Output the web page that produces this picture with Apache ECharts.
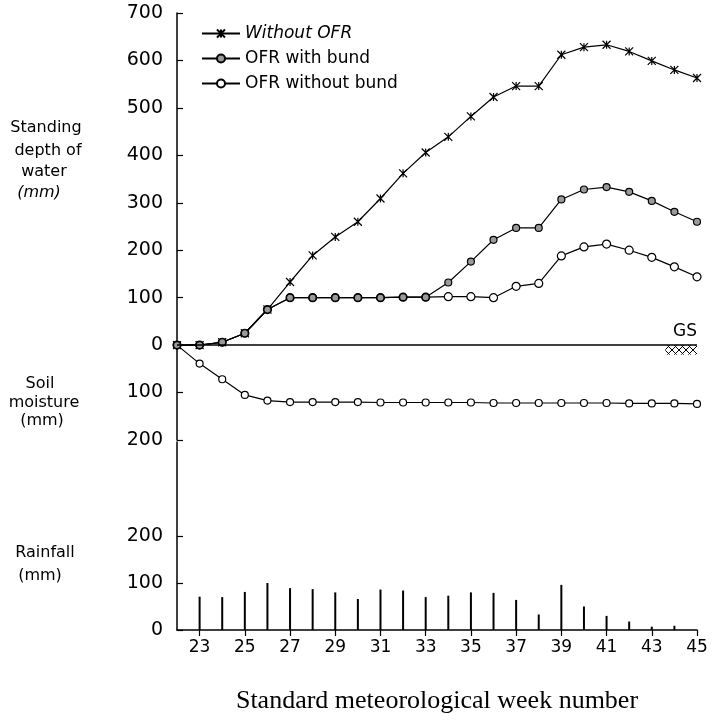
<!DOCTYPE html>
<html>
<head>
<meta charset="utf-8">
<script src="https://cdn.jsdelivr.net/npm/echarts@6/dist/echarts.min.js"></script>
<style>
  html, body { margin: 0; padding: 0; background: #fff; }
  #main { width: 714px; height: 722px; }
</style>
</head>
<body>
<div id="main"></div>
<script>
// standard meteorological weeks
var weeks = [22, 23, 24, 25, 26, 27, 28, 29, 30, 31, 32, 33, 34, 35, 36, 37, 38, 39, 40, 41, 42, 43, 44, 45]

// standing depth of water (mm)
var withoutOFR = [0, 0, 6, 25, 75, 133, 189, 228, 260, 309, 362, 406, 439, 482, 523, 546, 546, 612, 628, 633, 619, 599, 580, 563]
var ofrWithBund = [0, 0, 6, 25, 75, 100, 100, 100, 100, 100, 101, 101, 132, 176, 222, 247, 247, 307, 328, 333, 323, 304, 281, 260]
var ofrWithoutBund = [0, 0, 6, 25, 75, 100, 100, 100, 100, 100, 101, 101, 102, 102, 100, 124, 130, 188, 207, 213, 200, 185, 165, 144]

// soil moisture (mm, drawn below ground surface)
var soilMoisture = [0, -39, -72, -105, -117, -120, -120, -120, -120, -121, -121, -121, -121, -121, -122, -122, -122, -122, -122, -122, -123, -123, -123, -124]

// weekly rainfall (mm)
var rainWeeks = [23, 24, 25, 26, 27, 28, 29, 30, 31, 32, 33, 34, 35, 36, 37, 38, 39, 40, 41, 42, 43, 44]
var rainfall = [71, 70, 81, 100, 89, 87, 80, 66, 86, 84, 70, 73, 80, 79, 64, 33, 96, 50, 30, 18, 7, 9]

var oddWeeks = [23, 25, 27, 29, 31, 33, 35, 37, 39, 41, 43, 45]

function pairs(xs, ys) {
  return xs.map(function (x, i) { return [x, ys[i]] })
}

var labelFont = 'DejaVu Sans, Verdana, sans-serif'
var crossSymbol = 'path://M0,0L10,10M10,0L0,10M5,0L5,10'

/** small cross-hatch tile for the ground surface mark */
function hatchPattern() {
  var c = document.createElement('canvas')
  c.width = 7
  c.height = 7
  var ctx = c.getContext('2d')
  ctx.strokeStyle = '#000'
  ctx.lineWidth = 1
  ctx.beginPath()
  ctx.moveTo(0, 0)
  ctx.lineTo(7, 7)
  ctx.moveTo(7, 0)
  ctx.lineTo(0, 7)
  ctx.stroke()
  return c
}

function sideText(x, y, text, italic) {
  return {
    type: 'text',
    x: x,
    y: y,
    style: {
      text: text,
      align: 'center',
      verticalAlign: 'middle',
      font: (italic ? 'italic ' : '') + '16px ' + labelFont,
      fill: '#000'
    }
  }
}

var chart = echarts.init(document.getElementById('main'))

var option = {
  backgroundColor: '#fff',
  animation: false,
  textStyle: { fontFamily: labelFont, color: '#000' },
  legend: {
    orient: 'vertical',
    left: 196,
    top: 20,
    itemGap: 8,
    itemWidth: 38,
    itemHeight: 10,
    textStyle: { fontSize: 17, color: '#000', fontFamily: labelFont },
    data: [
      { name: 'Without OFR', textStyle: { fontStyle: 'italic' } },
      { name: 'OFR with bund' },
      { name: 'OFR without bund' }
    ]
  },
  grid: [
    { left: 177, right: 17, top: 13, bottom: 282 },
    { left: 177, right: 17, top: 442, bottom: 92 }
  ],
  xAxis: [
    {
      gridIndex: 0,
      type: 'value',
      min: 22,
      max: 45,
      show: false
    },
    {
      gridIndex: 1,
      type: 'value',
      min: 22,
      max: 45,
      name: 'Standard meteorological week number',
      nameLocation: 'middle',
      nameGap: 58,
      nameTextStyle: { fontFamily: 'Liberation Serif, Times New Roman, serif', fontSize: 26, color: '#000' },
      axisLine: { show: true, lineStyle: { color: '#000', width: 1.5 } },
      axisTick: { show: true, length: 6, customValues: oddWeeks, lineStyle: { color: '#000', width: 1.2 } },
      axisLabel: { customValues: oddWeeks, fontSize: 17, color: '#000', margin: 9, fontFamily: labelFont },
      splitLine: { show: false }
    }
  ],
  yAxis: [
    {
      gridIndex: 0,
      type: 'value',
      min: -200,
      max: 700,
      interval: 100,
      axisLine: { show: true, lineStyle: { color: '#000', width: 1.5 } },
      axisTick: { show: true, inside: true, length: 6, lineStyle: { color: '#000', width: 1.2 } },
      axisLabel: {
        fontSize: 19,
        color: '#000',
        margin: 14,
        fontFamily: labelFont,
        formatter: function (v) { return String(Math.abs(v)) }
      },
      splitLine: { show: false }
    },
    {
      gridIndex: 1,
      type: 'value',
      min: 0,
      max: 400,
      axisLine: { show: true, lineStyle: { color: '#000', width: 1.5 } },
      axisTick: { show: true, inside: true, length: 6, customValues: [0, 100, 200], lineStyle: { color: '#000', width: 1.2 } },
      axisLabel: { customValues: [0, 100, 200], fontSize: 19, color: '#000', margin: 14, fontFamily: labelFont },
      splitLine: { show: false }
    }
  ],
  graphic: [
    sideText(46, 128, 'Standing'),
    sideText(48, 151, 'depth of'),
    sideText(44, 172, 'water'),
    sideText(39, 193, '(mm)', true),
    sideText(40, 384, 'Soil'),
    sideText(44, 403, 'moisture'),
    sideText(42, 421, '(mm)'),
    sideText(45, 553, 'Rainfall'),
    sideText(40, 576, '(mm)')
  ],
  series: [
    {
      name: 'Without OFR',
      type: 'line',
      xAxisIndex: 0,
      yAxisIndex: 0,
      data: pairs(weeks, withoutOFR),
      symbol: crossSymbol,
      symbolSize: 8,
      showAllSymbol: true,
      lineStyle: { color: '#000', width: 1.2 },
      itemStyle: { color: 'none', borderColor: '#000', borderWidth: 1.2 },
      z: 2,
      markLine: {
        silent: true,
        symbol: 'none',
        lineStyle: { color: '#000', width: 1.6, type: 'solid' },
        label: {
          show: true,
          position: 'insideEndTop',
          formatter: 'GS',
          fontSize: 17,
          color: '#000',
          fontFamily: labelFont,
          distance: [0, 5]
        },
        data: [{ yAxis: 0 }]
      },
      markArea: {
        silent: true,
        itemStyle: {
          color: { image: hatchPattern(), repeat: 'repeat' }
        },
        data: [[{ xAxis: 43.6, yAxis: 0 }, { xAxis: 45, yAxis: -20 }]]
      }
    },
    {
      name: 'OFR without bund',
      type: 'line',
      xAxisIndex: 0,
      yAxisIndex: 0,
      data: pairs(weeks, ofrWithoutBund),
      symbol: 'circle',
      symbolSize: 8,
      showAllSymbol: true,
      lineStyle: { color: '#000', width: 1.2 },
      itemStyle: { color: '#fff', borderColor: '#000', borderWidth: 1.2 },
      z: 3
    },
    {
      name: 'OFR with bund',
      type: 'line',
      xAxisIndex: 0,
      yAxisIndex: 0,
      data: pairs(weeks, ofrWithBund),
      symbol: 'circle',
      symbolSize: 7,
      showAllSymbol: true,
      lineStyle: { color: '#000', width: 1.2 },
      itemStyle: { color: '#9a9a9a', borderColor: '#000', borderWidth: 1.2 },
      z: 4
    },
    {
      name: 'Soil moisture',
      type: 'line',
      xAxisIndex: 0,
      yAxisIndex: 0,
      data: pairs(weeks, soilMoisture),
      symbol: 'circle',
      symbolSize: 7,
      showAllSymbol: true,
      lineStyle: { color: '#000', width: 1.2 },
      itemStyle: { color: '#fff', borderColor: '#000', borderWidth: 1.2 },
      z: 3
    },
    {
      name: 'Rainfall',
      type: 'bar',
      xAxisIndex: 1,
      yAxisIndex: 1,
      data: pairs(rainWeeks, rainfall),
      barWidth: 2,
      itemStyle: { color: '#000' }
    }
  ]
}

chart.setOption(option)
</script>
</body>
</html>
